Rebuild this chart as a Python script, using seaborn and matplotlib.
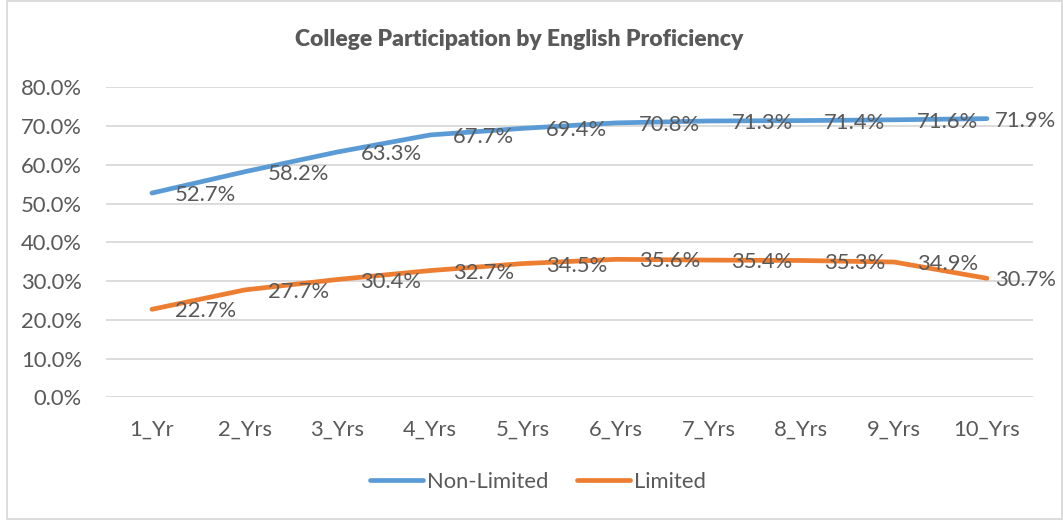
import matplotlib
matplotlib.use('Agg')
import matplotlib.pyplot as plt
import matplotlib.patches as mpatches
import seaborn as sns
import pandas as pd

categories = ['1_Yr', '2_Yrs', '3_Yrs', '4_Yrs', '5_Yrs',
              '6_Yrs', '7_Yrs', '8_Yrs', '9_Yrs', '10_Yrs']
non_limited = [0.527, 0.582, 0.633, 0.677, 0.694, 0.708, 0.713, 0.714, 0.716, 0.719]
limited = [0.227, 0.277, 0.304, 0.327, 0.345, 0.356, 0.354, 0.353, 0.349, 0.307]
series_names = ['Non-Limited', 'Limited']
series_colors = ['#5B9BD5', '#ED7D31']

df = pd.DataFrame({
    'categoria': categories * 2,
    'valor': non_limited + limited,
    'serie': [series_names[0]] * len(categories) + [series_names[1]] * len(categories),
})

sns.set_style('white')
plt.rcParams['font.family'] = ['Lato', 'DejaVu Sans']
text_color = '#595959'
grid_color = '#D9D9D9'
fs = 15.8

fig = plt.figure(figsize=(10.63, 5.2), dpi=100)
ax = fig.add_axes([0.0993, 0.2360, 0.8728, 0.5962])

sns.lineplot(data=df, x='categoria', y='valor', hue='serie',
             palette=dict(zip(series_names, series_colors)),
             sort=False, linewidth=3.4, ax=ax, legend=False,
             solid_capstyle='round', solid_joinstyle='round')

# rótulos de dados
for nome, valores in zip(series_names, [non_limited, limited]):
    for i, v in enumerate(valores):
        dx = 6 if i == len(valores) - 1 else 16.5
        ax.annotate(f'{v:.1%}', xy=(i, v), xytext=(dx, -1.5),
                    textcoords='offset points', ha='left', va='center',
                    fontsize=fs, color=text_color)

ax.set_xlim(-0.5, len(categories) - 0.5)
ax.set_ylim(0, 0.8)
ax.set_yticks([i / 10 for i in range(9)])
ax.set_yticklabels([f'{i / 10:.1%}' for i in range(9)])
ax.yaxis.grid(True, color=grid_color, linewidth=1.3)
ax.set_axisbelow(True)
ax.tick_params(axis='y', length=0, pad=17, labelsize=fs, labelcolor=text_color)
ax.tick_params(axis='x', length=0, pad=16, labelsize=fs, labelcolor=text_color)
ax.set_xlabel('')
ax.set_ylabel('')
for s in ax.spines.values():
    s.set_visible(False)

fig.text(519 / 1063, 1 - 39 / 520, 'College Participation by English Proficiency',
         ha='center', va='center', fontsize=16.5, fontweight='heavy', color=text_color)

handles = [plt.Line2D([], [], color=c, linewidth=3.4, solid_capstyle='round')
           for c in series_colors]
fig.legend(handles, series_names, loc='center', bbox_to_anchor=(0.506, 1 - 482 / 520),
           ncol=2, frameon=False, fontsize=fs, labelcolor=text_color,
           handlelength=2.4, handletextpad=0.2, columnspacing=1.3)

# borda do gráfico
fig.patches.append(mpatches.Rectangle((7 / 1063, 0.002), 1055 / 1063, 0.996,
                                      transform=fig.transFigure, fill=False,
                                      edgecolor=grid_color, linewidth=1.3))

fig.savefig('out.png', dpi=100)
plt.close()
